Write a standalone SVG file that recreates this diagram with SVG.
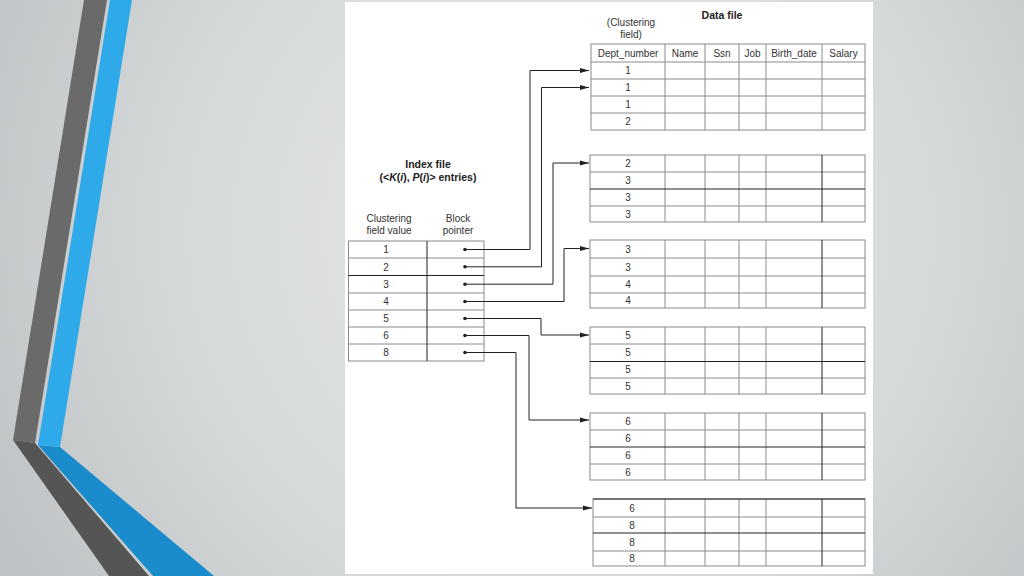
<svg xmlns="http://www.w3.org/2000/svg" width="1024" height="576" viewBox="0 0 1024 576">
<defs>
<radialGradient id="bg" cx="560" cy="230" r="640" gradientUnits="userSpaceOnUse">
<stop offset="0" stop-color="#e7e9ea"/>
<stop offset="0.6" stop-color="#d6d9da"/>
<stop offset="1" stop-color="#bfc2c4"/>
</radialGradient>
<marker id="arr" markerUnits="userSpaceOnUse" markerWidth="12" markerHeight="8" refX="9" refY="4" orient="auto">
<path d="M0,1.5 L9,4 L0,6.5 Z" fill="#222"/>
</marker>
<style>
.t{font-family:"Liberation Sans",Arial,sans-serif;font-size:10px;fill:#333;text-anchor:middle}
.b{font-family:"Liberation Sans",Arial,sans-serif;font-size:10.5px;font-weight:bold;fill:#222;text-anchor:middle}
.g{fill:none;stroke:#8a8a8a;stroke-width:1}
.k{fill:none;stroke:#222;stroke-width:1}
.c{fill:none;stroke:#222;stroke-width:1}
.d{fill:#222}
</style>
</defs>
<rect width="1024" height="576" fill="url(#bg)"/>
<g id="decor">
<polygon points="84,0 107,0 35,443 13,440" fill="#6a6a6a"/>
<polygon points="110,0 132,0 60,447 38,445" fill="#2ea9ea"/>
<polygon points="13,440 35,443 149,576 109,576" fill="#555555"/>
<polygon points="38,445 60,447 214,576 153,576" fill="#1a8bcb"/>
</g>
<rect id="panel" x="345" y="2" width="528" height="572" fill="#ffffff"/>

<g id="index-title">
<text class="b" x="428" y="168">Index file</text>
<text class="b" x="428" y="181">(&lt;<tspan font-style="italic">K</tspan>(<tspan font-style="italic">i</tspan>), <tspan font-style="italic">P</tspan>(<tspan font-style="italic">i</tspan>)&gt; entries)</text>
<text class="t" x="389" y="222">Clustering</text>
<text class="t" x="389" y="234">field value</text>
<text class="t" x="458" y="222">Block</text>
<text class="t" x="458" y="234">pointer</text>
</g>

<g id="index-file">
<rect class="g" x="348.5" y="241" width="135.5" height="120"/>
<path class="g" d="M348.5 258H484M348.5 293H484M348.5 310H484M348.5 327H484M348.5 344H484"/>
<path class="k" d="M348.5 275.5H484M427 241V361"/>
<text class="t" x="386" y="253">1</text>
<text class="t" x="386" y="270.5">2</text>
<text class="t" x="386" y="288">3</text>
<text class="t" x="386" y="305">4</text>
<text class="t" x="386" y="322">5</text>
<text class="t" x="386" y="339">6</text>
<text class="t" x="386" y="356">8</text>
<circle class="d" cx="465" cy="249.5" r="1.8"/>
<circle class="d" cx="465" cy="266.8" r="1.8"/>
<circle class="d" cx="465" cy="284.2" r="1.8"/>
<circle class="d" cx="465" cy="301.5" r="1.8"/>
<circle class="d" cx="465" cy="318.5" r="1.8"/>
<circle class="d" cx="465" cy="335.5" r="1.8"/>
<circle class="d" cx="465" cy="352.5" r="1.8"/>
</g>

<g id="data-title">
<text class="b" x="722" y="19">Data file</text>
<text class="t" x="631" y="26">(Clustering</text>
<text class="t" x="631" y="38">field)</text>
</g>

<g id="block1">
<rect class="g" x="591" y="44" width="274" height="86"/>
<path class="g" d="M591 62H865M591 79H865M591 96H865M591 113H865M665 44V130M705 44V130M739 44V130M766 44V130M822 44V130"/>
<text class="t" x="628" y="57">Dept_number</text>
<text class="t" x="685" y="57">Name</text>
<text class="t" x="722" y="57">Ssn</text>
<text class="t" x="752.5" y="57">Job</text>
<text class="t" x="794" y="57">Birth_date</text>
<text class="t" x="843.5" y="57">Salary</text>
<text class="t" x="628" y="74">1</text>
<text class="t" x="628" y="91">1</text>
<text class="t" x="628" y="108">1</text>
<text class="t" x="628" y="125">2</text>
</g>

<g id="block2">
<rect class="g" x="590" y="155" width="275" height="67"/>
<path class="g" d="M590 172H865M590 206H865M665 155V222M705 155V222M739 155V222M766 155V222"/>
<path class="k" d="M590 189H865M822 155V222"/>
<text class="t" x="628" y="167">2</text>
<text class="t" x="628" y="184">3</text>
<text class="t" x="628" y="201">3</text>
<text class="t" x="628" y="218">3</text>
</g>

<g id="block3">
<rect class="g" x="590" y="240" width="275" height="68"/>
<path class="g" d="M590 258H865M590 276H865M590 293H865M665 240V308M705 240V308M739 240V308M766 240V308"/>
<path class="k" d="M822 240V308"/>
<text class="t" x="628" y="253">3</text>
<text class="t" x="628" y="271">3</text>
<text class="t" x="628" y="288">4</text>
<text class="t" x="628" y="304">4</text>
</g>

<g id="block4">
<rect class="g" x="590" y="327" width="275" height="67"/>
<path class="g" d="M590 344H865M590 378H865M665 327V394M705 327V394M739 327V394M766 327V394"/>
<path class="k" d="M590 361.5H865M822 327V394"/>
<text class="t" x="628" y="339">5</text>
<text class="t" x="628" y="356">5</text>
<text class="t" x="628" y="373">5</text>
<text class="t" x="628" y="390">5</text>
</g>

<g id="block5">
<rect class="g" x="590" y="413" width="275" height="67"/>
<path class="g" d="M590 430H865M590 464H865M665 413V480M705 413V480M739 413V480M766 413V480"/>
<path class="k" d="M590 447H865M822 413V480"/>
<text class="t" x="628" y="425">6</text>
<text class="t" x="628" y="442">6</text>
<text class="t" x="628" y="459">6</text>
<text class="t" x="628" y="476">6</text>
</g>

<g id="block6">
<rect class="g" x="593" y="499" width="272" height="67"/>
<path class="g" d="M593 517H865M593 551H865M665 499V566M705 499V566M739 499V566M766 499V566"/>
<path class="k" d="M593 499H865M593 533H865M822 499V566"/>
<text class="t" x="632" y="511.5">6</text>
<text class="t" x="632" y="528.5">8</text>
<text class="t" x="632" y="545.5">8</text>
<text class="t" x="632" y="562">8</text>
</g>

<g id="connectors">
<path class="c" marker-end="url(#arr)" d="M465 249.5H530V70.5H589"/>
<path class="c" marker-end="url(#arr)" d="M465 266.8H541.5V87.5H589"/>
<path class="c" marker-end="url(#arr)" d="M465 284.2H553V163H589"/>
<path class="c" marker-end="url(#arr)" d="M465 301.5H564V248.5H589"/>
<path class="c" marker-end="url(#arr)" d="M465 318.5H541V335H589"/>
<path class="c" marker-end="url(#arr)" d="M465 335.5H529V420H589"/>
<path class="c" marker-end="url(#arr)" d="M465 352.5H516V508H592"/>
</g>
</svg>
